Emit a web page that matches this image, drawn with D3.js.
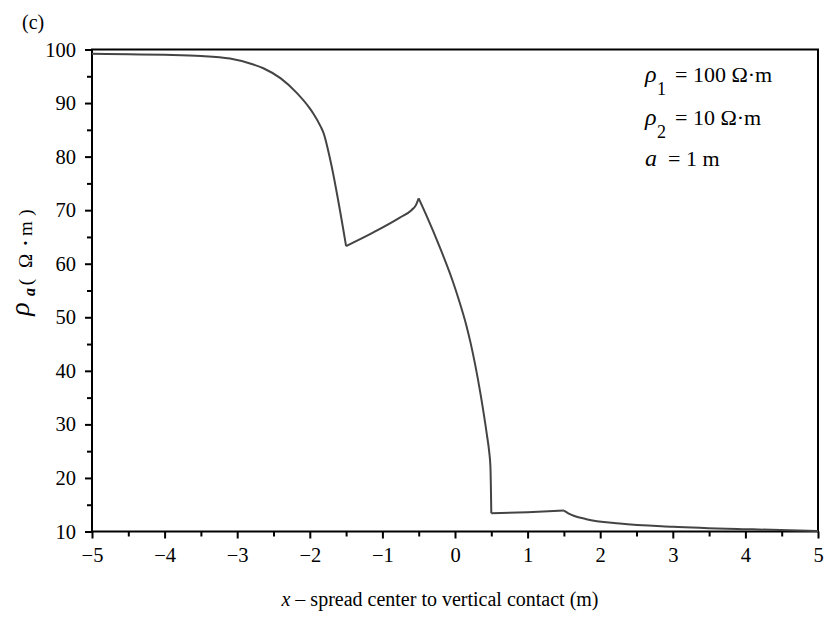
<!DOCTYPE html>
<html>
<head>
<meta charset="utf-8">
<script src="https://cdn.jsdelivr.net/npm/d3@7/dist/d3.min.js"></script>
<style>
  html, body { margin: 0; padding: 0; background: #fff; }
  svg { display: block; font-family: "Liberation Serif", "Times New Roman", serif; }
</style>
</head>
<body>
<svg id="chart" width="827" height="620"></svg>
<script>
// Apparent resistivity profile across a vertical contact (Wenner spread)
const distance = [-5, -4.5, -4, -3.5, -3.1, -2.8, -2.64, -2.4, -2.18, -2.0, -1.95, -1.85, -1.81, -1.72, -1.5,
                  -1.13, -0.76, -0.6, -0.54, -0.5,
                  -0.4, -0.21, -0.025, 0.045, 0.16, 0.21, 0.35, 0.44, 0.47, 0.488, 0.5,
                  1.0, 1.5,
                  1.56, 1.81, 2.27, 3.0, 4.1, 5.0];
const rhoA = [99.2, 99.1, 99.0, 98.8, 98.3, 97.3, 96.5, 94.6, 91.9, 89.0, 88.0, 85.6, 84.4, 79.5, 63.3,
              65.8, 68.6, 70.0, 70.9, 72.2,
              69.2, 63.1, 56.5, 53.6, 48.3, 45.5, 35.8, 28.0, 25.0, 22.1, 13.4,
              13.6, 13.9,
              13.4, 12.3, 11.5, 10.9, 10.4, 10.1];
// electrode positions where the curve has a corner
const kinks = [-1.5, -0.5, 0.5, 1.5];

const xTicks = [-5, -4, -3, -2, -1, 0, 1, 2, 3, 4, 5];
const xMinor = [-4.5, -3.5, -2.5, -1.5, -0.5, 0.5, 1.5, 2.5, 3.5, 4.5];
const yTicks = [10, 20, 30, 40, 50, 60, 70, 80, 90, 100];
const yMinor = [15, 25, 35, 45, 55, 65, 75, 85, 95];

const svg = d3.select("#chart");
const m = { left: 92, right: 9, top: 49.5, bottom: 88.5 };
const W = 827, H = 620;

const x = d3.scaleLinear().domain([-5, 5]).range([m.left, W - m.right]);
const y = d3.scaleLinear().domain([10, 100]).range([H - m.bottom, m.top]);

const fmt = d => d < 0 ? "\u2212" + Math.abs(d) : String(d);

// minor ticks
svg.append("g")
  .attr("transform", `translate(0,${y(10)})`)
  .call(d3.axisBottom(x).tickValues(xMinor).tickSize(5).tickSizeOuter(0).tickFormat(""))
  .call(g => g.select(".domain").remove())
  .call(g => g.selectAll("line").attr("stroke", "#000").attr("stroke-width", 2));
svg.append("g")
  .attr("transform", `translate(${x(-5)},0)`)
  .call(d3.axisLeft(y).tickValues(yMinor).tickSize(5).tickSizeOuter(0).tickFormat(""))
  .call(g => g.select(".domain").remove())
  .call(g => g.selectAll("line").attr("stroke", "#000").attr("stroke-width", 2));

// major ticks and labels
svg.append("g")
  .attr("transform", `translate(0,${y(10)})`)
  .call(d3.axisBottom(x).tickValues(xTicks).tickSize(7).tickPadding(9).tickSizeOuter(0).tickFormat(fmt))
  .call(g => g.select(".domain").remove())
  .call(g => g.selectAll("line").attr("stroke", "#000").attr("stroke-width", 2))
  .call(g => g.selectAll("text").attr("fill", "#000")
    .style("font-family", "'Liberation Serif', serif").style("font-size", "20.5px"));
svg.append("g")
  .attr("transform", `translate(${x(-5)},0)`)
  .call(d3.axisLeft(y).tickValues(yTicks).tickSize(7).tickPadding(9).tickSizeOuter(0))
  .call(g => g.select(".domain").remove())
  .call(g => g.selectAll("line").attr("stroke", "#000").attr("stroke-width", 2))
  .call(g => g.selectAll("text").attr("fill", "#000")
    .style("font-family", "'Liberation Serif', serif").style("font-size", "20.5px"));

// frame
svg.append("rect")
  .attr("x", x(-5)).attr("y", y(100))
  .attr("width", x(5) - x(-5)).attr("height", y(10) - y(100))
  .attr("fill", "none").attr("stroke", "#000").attr("stroke-width", 2);

// curve, drawn piecewise so the corners stay sharp
const pts = distance.map((d, i) => [d, rhoA[i]]);
const bounds = [-5, ...kinks, 5];
const line = d3.line().x(d => x(d[0])).y(d => y(d[1])).curve(d3.curveMonotoneX);
for (let k = 0; k < bounds.length - 1; k++) {
  const seg = pts.filter(p => p[0] >= bounds[k] && p[0] <= bounds[k + 1]);
  svg.append("path")
    .attr("d", line(seg))
    .attr("fill", "none")
    .attr("stroke", "#444")
    .attr("stroke-width", 2)
    .attr("stroke-linejoin", "round");
}

// panel label
svg.append("text").attr("x", 22).attr("y", 29)
  .style("font-size", "20px").text("(c)");

// x axis title
const xt = svg.append("text")
  .attr("x", 440).attr("y", 606)
  .attr("text-anchor", "middle")
  .style("font-size", "20px");
xt.append("tspan").style("font-style", "italic").text("x");
xt.append("tspan").text(" \u2013 spread center to vertical contact (m)");

// y axis title, built from rotated pieces
const yParts = [
  { t: "\u03c1", c: 309, b: 29, s: 28, st: "italic", w: "normal" },
  { t: "a", c: 292, b: 35, s: 16, st: "italic", w: "bold" },
  { t: "(", c: 282, b: 32, s: 19, st: "normal", w: "normal" },
  { t: "\u03a9", c: 261, b: 32, s: 19, st: "normal", w: "normal" },
  { t: "\u00b7", c: 243, b: 32, s: 19, st: "normal", w: "bold" },
  { t: "m", c: 228.5, b: 32, s: 19, st: "normal", w: "normal" },
  { t: ")", c: 212.5, b: 32, s: 19, st: "normal", w: "normal" }
];
svg.append("g").selectAll("text").data(yParts).join("text")
  .attr("transform", d => `translate(${d.b},${d.c}) rotate(-90)`)
  .attr("text-anchor", "middle")
  .style("font-size", d => d.s + "px")
  .style("font-style", d => d.st)
  .style("font-weight", d => d.w)
  .text(d => d.t);

// parameter legend
const legend = [
  { sym: "\u03c1", sub: "1", rest: "= 100 \u03a9\u00b7m", yb: 82 },
  { sym: "\u03c1", sub: "2", rest: "= 10 \u03a9\u00b7m", yb: 125 },
  { sym: "a", sub: "", rest: "= 1 m", yb: 166 }
];
legend.forEach(d => {
  svg.append("text").attr("x", 645).attr("y", d.yb)
    .style("font-size", "24px").style("font-style", "italic").text(d.sym);
  if (d.sub) {
    svg.append("text").attr("x", 657).attr("y", d.yb + 13)
      .style("font-size", "18px").text(d.sub);
  }
  svg.append("text").attr("x", d.sub ? 675 : 668).attr("y", d.yb)
    .style("font-size", "22px").text(d.rest);
});
</script>
</body>
</html>
